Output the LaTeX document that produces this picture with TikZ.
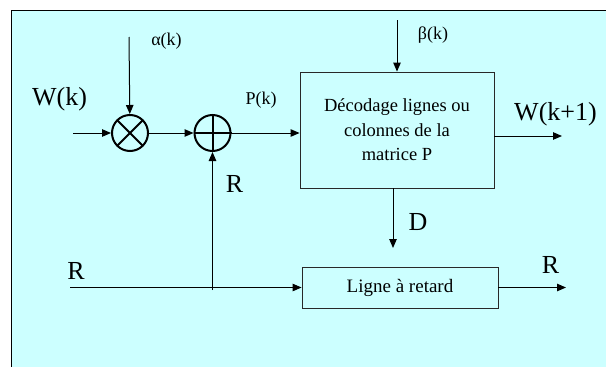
\documentclass[tikz,border=0pt]{standalone}
\usepackage{fontspec}
\setmainfont{Liberation Serif}
\usetikzlibrary{arrows.meta,calc}
\definecolor{cyanbg}{RGB}{204,255,255}
\definecolor{boxline}{RGB}{40,40,40}
\tikzset{
  conn/.style={line width=1pt, -{Triangle[length=9pt,width=7.5pt]}},
  plainline/.style={line width=1pt},
  opcircle/.style={circle, draw, line width=2pt, minimum size=36pt, inner sep=0pt},
  blockbox/.style={rectangle, draw=boxline, line width=0.9pt, inner sep=0pt},
  biglabel/.style={inner sep=0pt, font=\fontsize{26}{30}\selectfont},
  smalllabel/.style={inner sep=0pt, font=\fontsize{18}{22}\selectfont},
}
\begin{document}
\begin{tikzpicture}[x=1pt,y=-1pt]
\useasboundingbox (0,0) rectangle (606,367);
% background frame
\fill[cyanbg] (11.5,10.5) rectangle (612,372);
\draw[line width=1pt] (612,10.5) -- (11.5,10.5) -- (11.5,372);

% operators
\node[opcircle] (mult) at (130,133) {};
\draw[line width=2pt] ($(mult.center)+(-12.5,-12.5)$) -- ($(mult.center)+(12.5,12.5)$);
\draw[line width=2pt] ($(mult.center)+(-12.5,12.5)$) -- ($(mult.center)+(12.5,-12.5)$);
\node[opcircle] (add) at (212.5,133) {};
\draw[line width=2pt] (add.west) -- (add.east);
\draw[line width=2pt] (add.north) -- (add.south);

% blocks
\node[blockbox, minimum width=194pt, minimum height=116pt, align=center,
      font=\fontsize{18.5}{24.5}\selectfont] (dec) at (397,130)
      {D\'ecodage lignes ou\\colonnes de la\\matrice P};
\node[blockbox, minimum width=196pt, minimum height=41pt,
      font=\fontsize{19}{23}\selectfont] (lar) at (400,287.5) {Ligne \`a retard};

% coordinates
\coordinate (win) at (73,133);
\coordinate (atop) at (129,37);
\coordinate (btop) at (397,20);
\coordinate (wout) at (562,136);
\coordinate (dend) at (393,248);
\coordinate (rin) at (70,287.5);
\coordinate (rout) at (566,287.5);
\coordinate (fb) at (212.5,290);

% connectors
\draw[conn] (win) -- (mult);
\draw[conn] (atop) -- (mult);
\draw[conn] (mult) -- (add);
\draw[conn] (add) -- (dec.west |- add);
\draw[conn] (btop) -- (dec.north);
\draw[conn] (dec.east |- wout) -- (wout);
\draw[conn] (dec.south -| dend) -- (dend);
\draw[conn] (rin) -- (lar.west);
\draw[conn] (lar.east) -- (rout);
\draw[conn] (fb) -- (add.south);

% labels
\node[biglabel] (lw) at (59.5,99) {W(k)};
\node[smalllabel] (la) at (166.5,41) {α(k)};
\node[smalllabel] (lp) at (261,100) {P(k)};
\node[smalllabel] (lb) at (433,35) {β(k)};
\node[biglabel] (lw1) at (555.5,114) {W(k+1)};
\node[biglabel] (lr1) at (234.5,184) {R};
\node[biglabel] (ld) at (418,222) {D};
\node[biglabel] (lr2) at (76,271) {R};
\node[biglabel] (lr3) at (550.5,265) {R};
\end{tikzpicture}
\end{document}
